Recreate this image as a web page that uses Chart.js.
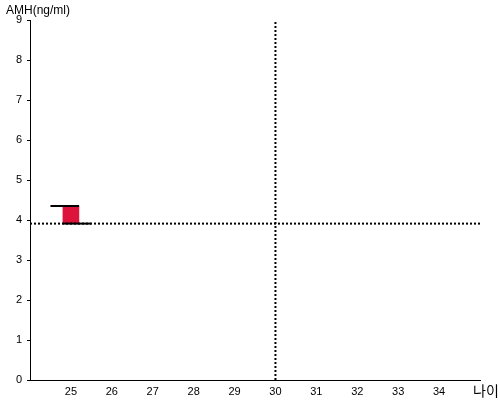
<!DOCTYPE html>
<html>
<head>
<meta charset="utf-8">
<script src="https://cdn.jsdelivr.net/npm/chart.js@4"></script>
<style>
  html, body { margin: 0; padding: 0; background: #fff; }
  #wrap { width: 500px; height: 400px; }
</style>
</head>
<body>
<div id="wrap"><canvas id="chart"></canvas></div>
<script>
// Valeurs
const ageRange = [24, 35];
const amhRange = [0, 9];
const ageTicks = [25, 26, 27, 28, 29, 30, 31, 32, 33, 34];
const barAge = [25];
const barAmh = [[3.91, 4.35]];
const upperLine = [[24.5, 4.35], [25.2, 4.35]];
const lowerLine = [[24.8, 3.91], [25.5, 3.91]];
const markAge = 30;
const markAmh = 3.91;

const toPoints = arr => arr.map(p => ({ x: p[0], y: p[1] }));

// Textes hors axes : titre de l'axe Y et libellé de l'axe X
const axisLabels = {
    id: 'axisLabels',
    afterDraw(chart) {
        const ctx = chart.ctx;
        ctx.save();
        ctx.fillStyle = '#000';
        ctx.textBaseline = 'alphabetic';
        ctx.font = '12px "Liberation Sans", Arial, sans-serif';
        ctx.textAlign = 'left';
        ctx.fillText('AMH(ng/ml)', 6, 14);
        ctx.font = '14px "Noto Sans CJK KR", sans-serif';
        ctx.fillText('나이', 473, 396);
        ctx.restore();
    }
};

new Chart(document.getElementById('chart').getContext('2d'), {
    data: {
        datasets: [
            {
                type: 'bar',
                data: barAge.map((a, i) => ({ x: a, y: barAmh[i] })),
                backgroundColor: '#dc143c',
                borderWidth: 0,
                barThickness: 16,
                order: 2
            },
            {
                type: 'line',
                data: toPoints(upperLine),
                borderColor: '#000',
                borderWidth: 2,
                pointRadius: 0,
                order: 1
            },
            {
                type: 'line',
                data: toPoints(lowerLine),
                borderColor: '#000',
                borderWidth: 2,
                pointRadius: 0,
                order: 1
            },
            {
                type: 'line',
                data: [{ x: markAge, y: amhRange[0] }, { x: markAge, y: amhRange[1] }],
                borderColor: '#000',
                borderWidth: 2,
                borderDash: [2, 2],
                pointRadius: 0,
                order: 0
            },
            {
                type: 'line',
                data: [{ x: ageRange[0], y: markAmh }, { x: ageRange[1], y: markAmh }],
                borderColor: '#000',
                borderWidth: 2,
                borderDash: [2, 2],
                pointRadius: 0,
                order: 0
            }
        ]
    },
    options: {
        responsive: true,
        maintainAspectRatio: false,
        animation: false,
        layout: { padding: { left: 0, right: 20, top: 20, bottom: 0 } },
        plugins: {
            legend: { display: false },
            tooltip: { enabled: false }
        },
        scales: {
            x: {
                type: 'linear',
                offset: false,
                min: ageRange[0],
                max: ageRange[1],
                afterFit: s => { s.height = 20; },
                afterBuildTicks: s => { s.ticks = ageTicks.map(v => ({ value: v })); },
                border: { color: '#000', width: 1 },
                // pas de petits traits sur l'axe X
                grid: { drawOnChartArea: false, drawTicks: true, tickLength: 3, color: 'rgba(0,0,0,0)' },
                ticks: {
                    color: '#000',
                    padding: 2,
                    maxRotation: 0,
                    font: { family: '"Liberation Sans", Arial, sans-serif', size: 11 }
                }
            },
            y: {
                min: amhRange[0],
                max: amhRange[1],
                afterFit: s => { s.width = 30; },
                border: { color: '#000', width: 1 },
                grid: { drawOnChartArea: false, drawTicks: true, tickLength: 3, color: '#000' },
                ticks: {
                    stepSize: 1,
                    color: '#000',
                    padding: 5,
                    font: { family: '"Liberation Sans", Arial, sans-serif', size: 11 }
                }
            }
        }
    },
    plugins: [axisLabels]
});
</script>
</body>
</html>
